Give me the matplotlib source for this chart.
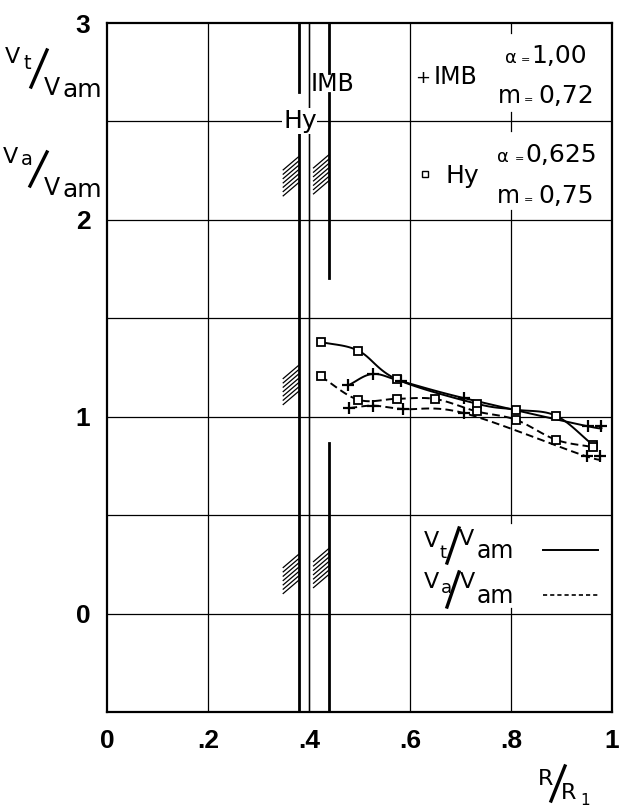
import numpy as np
import matplotlib
matplotlib.use("Agg")
import matplotlib.pyplot as plt
from matplotlib.lines import Line2D

# ---------------- data ----------------
hy_vt_x = [0.423, 0.498, 0.574, 0.732, 0.809, 0.889, 0.963]
hy_vt_y = [1.38, 1.335, 1.19, 1.066, 1.036, 1.005, 0.855]
hy_va_x = [0.423, 0.498, 0.574, 0.650, 0.732, 0.809, 0.889, 0.963]
hy_va_y = [1.205, 1.086, 1.091, 1.09, 1.027, 0.985, 0.883, 0.845]
imb_vt_x = [0.478, 0.526, 0.583, 0.706, 0.953, 0.978]
imb_vt_y = [1.16, 1.217, 1.18, 1.095, 0.951, 0.951]
imb_va_x = [0.48, 0.527, 0.587, 0.706, 0.95, 0.976]
imb_va_y = [1.044, 1.056, 1.039, 1.019, 0.798, 0.798]

x_ticks = [0, 0.2, 0.4, 0.6, 0.8, 1.0]
x_ticklabels = ["0", ".2", ".4", ".6", ".8", "1"]
y_ticks = [0, 1, 2, 3]
y_ticklabels = ["0", "1", "2", "3"]
grid_x = [0.2, 0.4, 0.6]
grid_y = [0, 0.5, 1.0, 1.5, 2.0, 2.5]
hub_x = [0.38, 0.40, 0.44]

W, H = 621, 808
FONT = "DejaVu Sans"


def smooth(x, y, n=16):
    P = np.column_stack([np.asarray(x, float), np.asarray(y, float)])
    P = np.vstack([2 * P[0] - P[1], P, 2 * P[-1] - P[-2]])
    out = []
    t = np.linspace(0, 1, n, endpoint=False)[:, None]
    for i in range(1, len(P) - 2):
        p0, p1, p2, p3 = P[i - 1], P[i], P[i + 1], P[i + 2]
        seg = 0.5 * ((2 * p1) + (-p0 + p2) * t + (2 * p0 - 5 * p1 + 4 * p2 - p3) * t ** 2
                     + (-p0 + 3 * p1 - 3 * p2 + p3) * t ** 3)
        out.append(seg)
    out.append(P[-2][None, :])
    S = np.vstack(out)
    return S[:, 0], S[:, 1]


fig = plt.figure(figsize=(W / 100, H / 100), dpi=100)
ax = fig.add_axes([107 / W, (H - 712) / H, 505 / W, 689 / H])
ax.set_xlim(0, 1)
ax.set_ylim(-0.5, 3)


def fy(v):
    return (v + 0.5) / 3.5


# grid
for gx in grid_x:
    ax.axvline(gx, color="k", lw=0.9, zorder=0.5)
for gy in grid_y:
    ax.axhline(gy, color="k", lw=0.9, zorder=0.5)
# x = 0.8 line interrupted by the two boxes
for a, b in [(-0.5, 0.03), (0.46, 2.05), (2.45, 2.55), (2.95, 3.0)]:
    ax.axvline(0.8, ymin=fy(a), ymax=fy(b), color="k", lw=0.9, zorder=0.5)

# hub lines
ax.axvline(hub_x[0], ymin=fy(-0.5), ymax=fy(2.44), color="k", lw=2.0, zorder=1)
ax.axvline(hub_x[0], ymin=fy(2.65), ymax=fy(3.0), color="k", lw=2.0, zorder=1)
ax.axvline(hub_x[1], color="k", lw=1.0, zorder=1)
for a, b in [(-0.5, 0.868), (1.706, 2.645), (2.746, 3.0)]:
    ax.axvline(hub_x[2], ymin=fy(a), ymax=fy(b), color="k", lw=2.0, zorder=1)


def hatch(xr, yb, n=7):
    for k in range(n):
        ax.plot([xr - 0.032, xr], [yb + k * 0.022, yb + k * 0.022 + 0.07],
                color="k", lw=0.9, zorder=1, solid_capstyle="butt")


hatch(hub_x[0], 2.12)
hatch(hub_x[0], 1.06)
hatch(hub_x[0], 0.10)
hatch(hub_x[2], 2.13)
hatch(hub_x[2], 0.13)

# data curves
dash = (0, (4, 2.2))
sx, sy = smooth(hy_vt_x, hy_vt_y)
ax.plot(sx, sy, color="k", lw=1.4, zorder=2)
sx, sy = smooth(hy_va_x, hy_va_y)
ax.plot(sx, sy, color="k", lw=1.4, ls=dash, zorder=2)
sx, sy = smooth(imb_vt_x, imb_vt_y)
ax.plot(sx, sy, color="k", lw=1.4, zorder=2)
sx, sy = smooth(imb_va_x, imb_va_y)
ax.plot(sx, sy, color="k", lw=1.4, ls=dash, zorder=2)

ax.plot(hy_vt_x, hy_vt_y, ls="none", marker="s", ms=5.5, mfc="white", mec="k", mew=1.3, zorder=3)
ax.plot(hy_va_x, hy_va_y, ls="none", marker="s", ms=5.5, mfc="white", mec="k", mew=1.3, zorder=3)
ax.plot(imb_vt_x, imb_vt_y, ls="none", marker="+", ms=8, mec="k", mew=1.6, zorder=3)
ax.plot(imb_va_x, imb_va_y, ls="none", marker="+", ms=8, mec="k", mew=1.6, zorder=3)

# axes styling
for s in ax.spines.values():
    s.set_linewidth(1.6)
ax.set_xticks(x_ticks)
ax.set_xticklabels(x_ticklabels, fontsize=19, fontweight="bold", family="Liberation Sans")
ax.set_yticks(y_ticks)
ax.set_yticklabels(y_ticklabels, fontsize=19, fontweight="bold", family="Liberation Sans")
ax.tick_params(axis="both", length=0)
ax.tick_params(axis="x", pad=12)
ax.tick_params(axis="y", pad=12)


def T(x, y, s, size, weight="normal", **kw):
    fig.text(x / W, 1 - y / H, s, fontsize=size, fontweight=weight, family=FONT,
             ha="left", va="baseline", **kw)


def slash(x1, y1, x2, y2, lw=2.4):
    fig.add_artist(Line2D([x1 / W, x2 / W], [1 - y1 / H, 1 - y2 / H],
                          transform=fig.transFigure, color="k", lw=lw))


# y label
T(5, 63, "V", 16)
T(23, 69, "t", 14)
slash(31, 87, 47, 50)
T(44, 95, "V", 17)
T(63, 97, "am", 18)

T(3, 163, "V", 16)
T(21, 165, "a", 14)
slash(30, 186, 47, 152)
T(44, 195, "V", 17)
T(63, 197, "am", 18)

# x label
T(538, 785, "R", 16)
slash(551, 801, 565, 766)
T(561, 799, "R", 16)
T(580, 805, "1", 11)

# hub labels
T(283, 128, "Hy", 18, bbox=dict(fc="white", ec="none", pad=0.5))
T(311, 91, "IMB", 17)

# top-right annotation
T(415, 83, "+", 13)
T(434, 84, "IMB", 17)
T(505, 63, "α", 13)
T(521, 63, "=", 8)
T(531, 63, "1,00", 18)
T(498, 103, "m", 17)
T(524, 103, "=", 8)
T(538, 103, "0,72", 18)

fig.add_artist(Line2D([425 / W], [1 - 174 / H], marker="s", ms=4.5, mfc="white",
                      mec="k", mew=1.0, transform=fig.transFigure))
T(446, 183, "Hy", 18)
T(497, 162, "α", 13)
T(515, 162, "=", 8)
T(525, 162, "0,625", 18)
T(497, 203, "m", 17)
T(524, 203, "=", 8)
T(538, 203, "0,75", 18)

# bottom-right legend
T(424, 547, "V", 16)
T(440, 558, "t", 13)
slash(447, 563, 459, 528)
T(459, 545, "V", 16)
T(477, 558, "am", 17)
fig.add_artist(Line2D([543 / W, 598 / W], [1 - 550 / H, 1 - 550 / H],
                      transform=fig.transFigure, color="k", lw=1.4))

T(424, 588, "V", 16)
T(441, 593, "a", 13)
slash(447, 607, 459, 572)
T(460, 588, "V", 16)
T(477, 603, "am", 17)
fig.add_artist(Line2D([543 / W, 598 / W], [1 - 595 / H, 1 - 595 / H],
                      transform=fig.transFigure, color="k", lw=1.2, ls=(0, (2.5, 1.8))))

fig.savefig("out.png", dpi=100)
